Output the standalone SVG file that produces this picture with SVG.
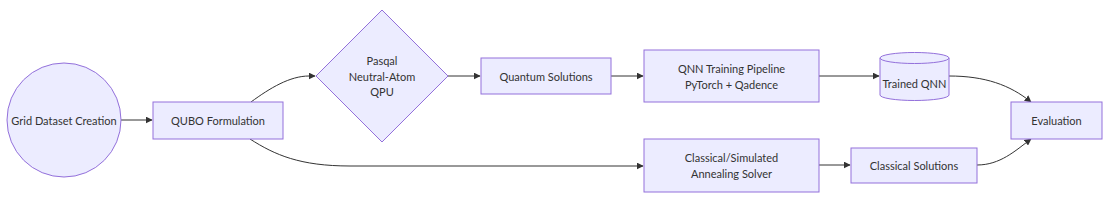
<svg xmlns="http://www.w3.org/2000/svg" width="1108" height="202" viewBox="0 0 1108 202">
<style>
.n{fill:#ECECFF;stroke:#9370DB;stroke-width:1}
.t{font-family:Lato,"Liberation Sans",sans-serif;font-size:11px;fill:#333;text-anchor:middle;dominant-baseline:central}
.e{fill:none;stroke:#333;stroke-width:1}
</style>
<defs>
<marker id="ah" viewBox="0 0 10 10" refX="9" refY="5" markerWidth="7" markerHeight="7" markerUnits="userSpaceOnUse" orient="auto">
<path d="M0,0 L10,5 L0,10 z" fill="#333"/>
</marker>
</defs>
<rect width="1108" height="202" fill="#fff"/>
<g id="edges">
<path class="e" d="M121,120 L152,120" marker-end="url(#ah)"/>
<path class="e" d="M251,102 C270,88 290,76 309,76 L315,76" marker-end="url(#ah)"/>
<path class="e" d="M250,139 C275,155 300,166 350,166 L643,166" marker-end="url(#ah)"/>
<path class="e" d="M448,76 L480,76" marker-end="url(#ah)"/>
<path class="e" d="M611,76 L643,76" marker-end="url(#ah)"/>
<path class="e" d="M819,76 L879,76" marker-end="url(#ah)"/>
<path class="e" d="M949,76 C985,76 1010,85 1031,102" marker-end="url(#ah)"/>
<path class="e" d="M819,165 L850,165" marker-end="url(#ah)"/>
<path class="e" d="M977,165 C1000,165 1015,151 1031,139" marker-end="url(#ah)"/>
</g>
<g id="grid"><circle class="n" cx="64" cy="120" r="57"/><text class="t" x="64" y="120">Grid Dataset Creation</text></g>
<g id="qubo"><rect class="n" x="153" y="102" width="130" height="37"/><text class="t" x="218" y="120.5">QUBO Formulation</text></g>
<g id="qpu"><polygon class="n" points="382,10 448,76 382,142 316,76"/><text class="t" x="382" y="60">Pasqal</text><text class="t" x="382" y="76">Neutral-Atom</text><text class="t" x="382" y="91">QPU</text></g>
<g id="qsol"><rect class="n" x="481" y="58" width="130" height="36"/><text class="t" x="546" y="76">Quantum Solutions</text></g>
<g id="qnn"><rect class="n" x="644" y="50" width="175" height="52"/><text class="t" x="731.5" y="68">QNN Training Pipeline</text><text class="t" x="731.5" y="84">PyTorch + Qadence</text></g>
<g id="trained"><path class="n" d="M880,58 A34.5,5.5 0 0 1 949,58 L949,95 A34.5,5.5 0 0 1 880,95 Z"/><path class="n" fill="none" d="M880,58 A34.5,5.5 0 0 0 949,58"/><text class="t" x="914.5" y="83">Trained QNN</text></g>
<g id="csolver"><rect class="n" x="644" y="139" width="175" height="53"/><text class="t" x="731.5" y="157">Classical/Simulated</text><text class="t" x="731.5" y="173">Annealing Solver</text></g>
<g id="csol"><rect class="n" x="851" y="148" width="126" height="35"/><text class="t" x="914" y="165.5">Classical Solutions</text></g>
<g id="eval"><rect class="n" x="1011" y="102" width="91" height="37"/><text class="t" x="1056.5" y="120.5">Evaluation</text></g>
</svg>
